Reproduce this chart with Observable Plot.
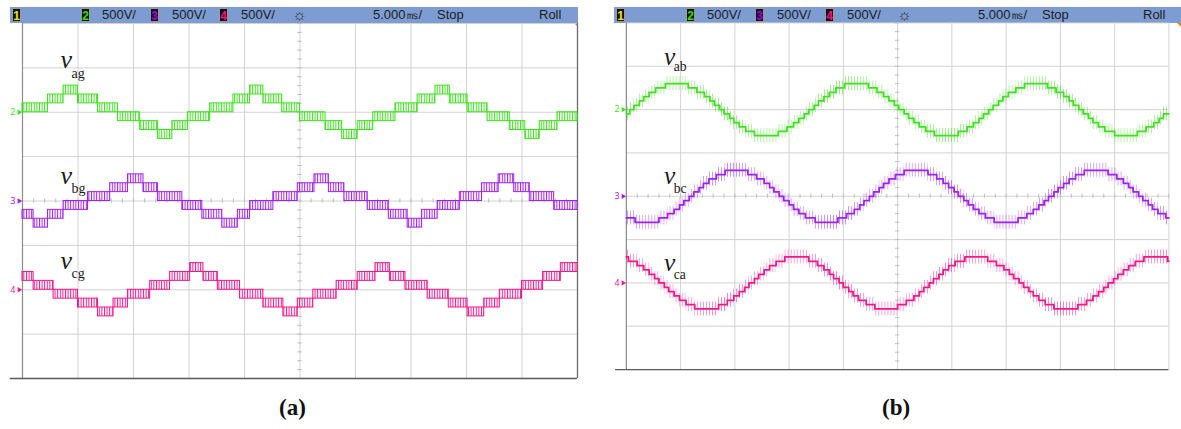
<!DOCTYPE html>
<html><head><meta charset="utf-8">
<script src="https://cdn.jsdelivr.net/npm/d3@7"></script>
<script src="https://cdn.jsdelivr.net/npm/@observablehq/plot@0.6"></script>
<style>
body{margin:0;width:1181px;height:429px;overflow:hidden;background:#fff;position:relative;font-family:"Liberation Sans",Arial,sans-serif}
.bar{position:absolute;top:7px;height:16px;background:#7d9dd2}
.hd{position:absolute;top:7px;height:16px;line-height:16px;font-size:13px;color:#1c1c1c;white-space:nowrap}
.box{position:absolute;top:8px;width:9px;height:14px;line-height:14px;background:#111;font-size:12px;font-weight:bold;text-align:center;border:1px solid #9a9a9a;box-sizing:border-box}
.cap{position:absolute;top:395px;font:bold 23px "Liberation Serif",serif;color:#111}
.plot{position:absolute;top:0}
.tri{position:absolute;top:23px;width:0;height:0;border-top:4px solid #f08a00;border-left:4px solid transparent}
</style></head><body>
<svg width="0" height="0" style="position:absolute"><defs>
<pattern id="stG" patternUnits="userSpaceOnUse" width="2.6" height="8"><rect width="1" height="8" fill="#3de21c"/></pattern>
<pattern id="stP" patternUnits="userSpaceOnUse" width="2.6" height="8"><rect width="1" height="8" fill="#a020f0"/></pattern>
<pattern id="stK" patternUnits="userSpaceOnUse" width="2.6" height="8"><rect width="1" height="8" fill="#f0188c"/></pattern>
<pattern id="spG" patternUnits="userSpaceOnUse" width="3.1" height="8"><rect width="0.8" height="8" fill="#3de21c" opacity="0.55"/></pattern>
<pattern id="spP" patternUnits="userSpaceOnUse" width="3.1" height="8"><rect width="0.8" height="8" fill="#a020f0" opacity="0.55"/></pattern>
<pattern id="spK" patternUnits="userSpaceOnUse" width="3.1" height="8"><rect width="0.8" height="8" fill="#f0188c" opacity="0.55"/></pattern>
</defs></svg>

<div class="bar" style="left:10px;width:568px"></div>
<div class="box" style="left:12px;color:#f2e600">1</div>
<div class="box" style="left:81px;color:#33e000">2</div>
<div class="hd" style="left:102px">500V/</div>
<div class="box" style="left:150px;color:#a000f0">3</div>
<div class="hd" style="left:172px">500V/</div>
<div class="box" style="left:219px;color:#ff1090">4</div>
<div class="hd" style="left:241px">500V/</div>
<div class="hd" style="left:292px;font-size:16px;color:#333">☼</div>
<div class="hd" style="left:373px">5.000㎳/</div>
<div class="hd" style="left:437px">Stop</div>
<div class="hd" style="left:539px">Roll</div>
<div class="tri" style="left:574px"></div>

<div class="bar" style="left:614px;width:567px"></div>
<div class="box" style="left:616px;color:#f2e600">1</div>
<div class="box" style="left:686px;color:#33e000">2</div>
<div class="hd" style="left:707px">500V/</div>
<div class="box" style="left:755px;color:#a000f0">3</div>
<div class="hd" style="left:777px">500V/</div>
<div class="box" style="left:825px;color:#ff1090">4</div>
<div class="hd" style="left:847px">500V/</div>
<div class="hd" style="left:897px;font-size:16px;color:#333">☼</div>
<div class="hd" style="left:978px">5.000㎳/</div>
<div class="hd" style="left:1042px">Stop</div>
<div class="hd" style="left:1143px">Roll</div>
<div class="tri" style="left:1177px"></div>

<div id="pa" class="plot" style="left:0px"></div>
<div id="pb" class="plot" style="left:600px"></div>
<div class="cap" style="left:279px">(a)</div>
<div class="cap" style="left:882px">(b)</div>

<script>
// ---- screen: 10 div x 5 ms, 8 div x 500 V ----
const timeTicks = [0, 5, 10, 15, 20, 25, 30, 35, 40, 45, 50];
const voltTicks = [-2000, -1500, -1000, -500, 0, 500, 1000, 1500, 2000];
const channels = ["2", "3", "4"];
const channelOffset = [1000, 0, -1000];          // V, trace reference position on screen
const channelColor = ["#3de21c", "#a020f0", "#f0188c"];

// ---- (a) phase voltages: PWM bands between adjacent 100 V levels ----
const phaseStep = 100;
const vagEdges = [0, 2.3, 3.7, 5.0, 6.8, 8.6, 10.6, 12.2, 13.5, 14.9, 16.9, 19.0, 20.5, 21.7, 23.4, 25.0, 27.3, 28.8, 30.2, 31.6, 33.6, 35.6, 37.2, 38.5, 40.1, 41.9, 43.9, 45.3, 46.6, 48.2, 50];
const vagLow   = [0, 100, 200, 100, 0, -100, -200, -300, -200, -100, 0, 100, 200, 100, 0, -100, -200, -300, -200, -100, 0, 100, 200, 100, 0, -100, -200, -300, -200, -100];
const vbgEdges = [0, 1.0, 2.3, 3.7, 5.9, 7.9, 9.5, 10.9, 12.2, 14.4, 16.2, 18.0, 19.4, 20.5, 22.6, 24.8, 26.3, 27.6, 29.0, 31.1, 33.0, 34.7, 36.0, 37.4, 39.4, 41.4, 42.9, 44.3, 45.7, 47.9, 50];
const vbgLow   = [-200, -300, -200, -100, 0, 100, 200, 100, 0, -100, -200, -300, -200, -100, 0, 100, 200, 100, 0, -100, -200, -300, -200, -100, 0, 100, 200, 100, 0, -100];
const vcgEdges = [0, 1.0, 2.8, 5.0, 6.8, 8.2, 9.5, 11.5, 13.3, 15.1, 16.3, 17.6, 19.6, 21.7, 23.5, 24.8, 26.2, 28.3, 30.2, 31.8, 33.1, 34.5, 36.5, 38.4, 40.1, 41.6, 43.0, 45.0, 46.9, 48.5, 50];
const vcgLow   = [100, 0, -100, -200, -300, -200, -100, 0, 100, 200, 100, 0, -100, -200, -300, -200, -100, 0, 100, 200, 100, 0, -100, -200, -300, -200, -100, 0, 100, 200];

// ---- (b) line voltages: staircase of 50 V levels (time of each new level, level) ----
const lineStep = 50;
const spikeHeight = 80;  // V, switching spikes around each level
const vabT = [0, 0.3, 0.7, 1.2, 1.6, 2.1, 2.7, 3.6, 5.7, 6.5, 7.2, 7.7, 8.1, 8.6, 9.0, 9.5, 9.9, 10.4, 11.0, 11.8, 14.0, 14.8, 15.4, 15.9, 16.4, 16.8, 17.3, 17.7, 18.2, 18.7, 19.3, 20.1, 22.3, 23.1, 23.7, 24.2, 24.7, 25.1, 25.6, 26.0, 26.5, 27.0, 27.6, 28.4, 30.6, 31.4, 32.0, 32.5, 32.9, 33.4, 33.8, 34.3, 34.7, 35.2, 35.9, 36.7, 38.8, 39.6, 40.3, 40.8, 41.2, 41.7, 42.1, 42.6, 43.0, 43.5, 44.1, 45.0, 47.1, 47.9, 48.6, 49.1, 49.5];
const vabV = [-50, 0, 50, 100, 150, 200, 250, 300, 250, 200, 150, 100, 50, 0, -50, -100, -150, -200, -250, -300, -250, -200, -150, -100, -50, 0, 50, 100, 150, 200, 250, 300, 250, 200, 150, 100, 50, 0, -50, -100, -150, -200, -250, -300, -250, -200, -150, -100, -50, 0, 50, 100, 150, 200, 250, 300, 250, 200, 150, 100, 50, 0, -50, -100, -150, -200, -250, -300, -250, -200, -150, -100, -50];
const vbcT = [0, 0.8, 3.0, 3.8, 4.4, 4.9, 5.3, 5.8, 6.2, 6.7, 7.1, 7.6, 8.3, 9.1, 11.2, 12.0, 12.7, 13.2, 13.6, 14.1, 14.5, 15.0, 15.4, 15.9, 16.5, 17.4, 19.5, 20.3, 21.0, 21.5, 21.9, 22.4, 22.8, 23.3, 23.7, 24.2, 24.8, 25.6, 27.8, 28.6, 29.2, 29.7, 30.2, 30.6, 31.1, 31.5, 32.0, 32.5, 33.1, 33.9, 36.1, 36.9, 37.5, 38.0, 38.5, 38.9, 39.4, 39.8, 40.3, 40.8, 41.4, 42.2, 44.4, 45.2, 45.8, 46.3, 46.7, 47.2, 47.6, 48.1, 48.5, 49.0, 49.7];
const vbcV = [-250, -300, -250, -200, -150, -100, -50, 0, 50, 100, 150, 200, 250, 300, 250, 200, 150, 100, 50, 0, -50, -100, -150, -200, -250, -300, -250, -200, -150, -100, -50, 0, 50, 100, 150, 200, 250, 300, 250, 200, 150, 100, 50, 0, -50, -100, -150, -200, -250, -300, -250, -200, -150, -100, -50, 0, 50, 100, 150, 200, 250, 300, 250, 200, 150, 100, 50, 0, -50, -100, -150, -200, -250];
const vcaT = [0, 0.2, 1.0, 1.6, 2.1, 2.6, 3.0, 3.5, 3.9, 4.4, 4.9, 5.5, 6.3, 8.5, 9.3, 9.9, 10.4, 10.9, 11.3, 11.8, 12.2, 12.7, 13.2, 13.8, 14.6, 16.8, 17.6, 18.2, 18.7, 19.1, 19.6, 20.0, 20.5, 20.9, 21.4, 22.1, 22.9, 25.0, 25.8, 26.5, 27.0, 27.4, 27.9, 28.3, 28.8, 29.2, 29.7, 30.3, 31.2, 33.3, 34.1, 34.8, 35.3, 35.7, 36.2, 36.6, 37.1, 37.5, 38.0, 38.6, 39.4, 41.6, 42.4, 43.0, 43.5, 44.0, 44.4, 44.9, 45.3, 45.8, 46.3, 46.9, 47.7, 49.9];
const vcaV = [300, 250, 200, 150, 100, 50, 0, -50, -100, -150, -200, -250, -300, -250, -200, -150, -100, -50, 0, 50, 100, 150, 200, 250, 300, 250, 200, 150, 100, 50, 0, -50, -100, -150, -200, -250, -300, -250, -200, -150, -100, -50, 0, 50, 100, 150, 200, 250, 300, 250, 200, 150, 100, 50, 0, -50, -100, -150, -200, -250, -300, -250, -200, -150, -100, -50, 0, 50, 100, 150, 200, 250, 300, 250];

// ---- trace labels (v + subscript), anchored in screen units (ms, V) ----
const labelsA = [
  {sub: "ag", t: 3.42, v: 1592, ts: 4.41, vs: 1440},
  {sub: "bg", t: 3.42, v: 287, ts: 4.41, vs: 146},
  {sub: "cg", t: 3.42, v: -670, ts: 4.41, vs: -822}
];
const labelsB = [
  {sub: "ab", t: 3.47, v: 1614, ts: 4.37, vs: 1496},
  {sub: "bc", t: 3.47, v: 230, ts: 4.37, vs: 90},
  {sub: "ca", t: 3.47, v: -771, ts: 4.37, vs: -900}
];

function bands(edges, lows, step, off) {
  return lows.map((lo, i) => ({t0: edges[i], t1: edges[i + 1], lo: off + lo, hi: off + lo + step}));
}
function stairs(ts, vs, off) {
  const p = ts.map((t, i) => ({t, v: off + vs[i]}));
  p.push({t: 50, v: off + vs[vs.length - 1]});
  return p;
}
function spikeBands(ts, vs, off) {
  return ts.map((t, i) => ({t0: t, t1: i + 1 < ts.length ? ts[i + 1] : 50, lo: off + vs[i] - spikeHeight, hi: off + vs[i] + spikeHeight}));
}

const minorT = d3.range(0, 50.001, 1);
const minorV = d3.range(-2000, 2000.001, 100);

function frame(bottomStart) {
  return [
    Plot.ruleX(timeTicks, {stroke: "#d2d2d2", strokeWidth: 1}),
    Plot.ruleY(voltTicks, {stroke: "#d2d2d2", strokeWidth: 1}),
    Plot.ruleX(minorT, {y1: -24, y2: 24, stroke: "#bdbdbd"}),
    Plot.ruleY(minorV, {x1: 24.8, x2: 25.2, stroke: "#bdbdbd"}),
    Plot.ruleX([0], {stroke: "#8c8c8c", strokeWidth: 1.2}),
    Plot.ruleY([-2000], {x1: bottomStart, x2: 50, stroke: "#5a5a5a", strokeWidth: 1.3}),
    Plot.text(channels, {x: -1.1, y: (d, i) => channelOffset[i], text: d => d, fill: (d, i) => channelColor[i], fontSize: 9, textAnchor: "start"}),
    Plot.dot(channels, {x: -0.3, y: (d, i) => channelOffset[i], symbol: "triangle", r: 2, rotate: 90, fill: (d, i) => channelColor[i], stroke: "none"})
  ];
}
function labelMarks(labels) {
  return [
    Plot.text(labels, {x: "t", y: "v", text: () => "v", fontFamily: "Liberation Serif", fontStyle: "italic", fontSize: 26, textAnchor: "start", fill: "#1a1a1a"}),
    Plot.text(labels, {x: "ts", y: "vs", text: "sub", fontFamily: "Liberation Serif", fontSize: 14, textAnchor: "start", fill: "#1a1a1a"})
  ];
}
const common = {
  width: 595, height: 390, marginTop: 23, marginBottom: 12,
  x: {domain: [0, 50], axis: null}, y: {domain: [-2000, 2000], axis: null},
  style: {background: "transparent", overflow: "visible"}
};

const phaseData = [[vagEdges, vagLow], [vbgEdges, vbgLow], [vcgEdges, vcgLow]];
const patA = ["url(#stG)", "url(#stP)", "url(#stK)"];
const marksA = [...frame(-1.1), Plot.ruleX([50], {stroke: "#6a6a6a", strokeWidth: 1.3})];
phaseData.forEach(([e, l], i) => {
  marksA.push(Plot.rect(bands(e, l, phaseStep, channelOffset[i]), {x1: "t0", x2: "t1", y1: "lo", y2: "hi", fill: patA[i], stroke: channelColor[i], strokeWidth: 1}));
});
marksA.push(...labelMarks(labelsA));
document.getElementById("pa").append(Plot.plot({...common, marginLeft: 22, marginRight: 18, marks: marksA}));

const lineData = [[vabT, vabV], [vbcT, vbcV], [vcaT, vcaV]];
const patB = ["url(#spG)", "url(#spP)", "url(#spK)"];
const marksB = [...frame(-1.0)];
lineData.forEach(([t, v], i) => {
  marksB.push(Plot.rect(spikeBands(t, v, channelOffset[i]), {x1: "t0", x2: "t1", y1: "lo", y2: "hi", fill: patB[i]}));
  marksB.push(Plot.line(stairs(t, v, channelOffset[i]), {x: "t", y: "v", curve: "step-after", stroke: channelColor[i], strokeWidth: 1.8}));
});
marksB.push(...labelMarks(labelsB));
document.getElementById("pb").append(Plot.plot({...common, marginLeft: 26.5, marginRight: 12.9, marks: marksB}));
</script>
</body></html>
